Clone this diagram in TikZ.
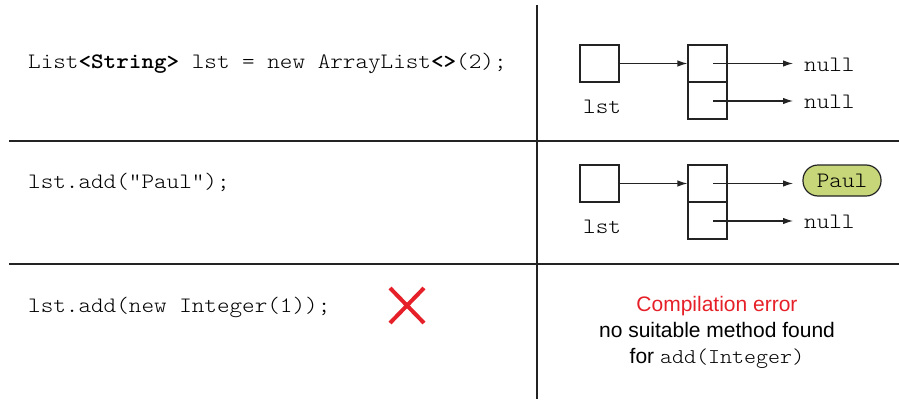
\documentclass[tikz,border=0pt]{standalone}
\usepackage{fontspec}
\setmainfont{Liberation Sans}
\setsansfont{Liberation Sans}
\setmonofont{lmmonolt10-regular.otf}[FakeStretch=1.09, BoldFont=lmmonolt10-bold.otf]
\usetikzlibrary{arrows.meta}
\definecolor{errred}{RGB}{230,32,40}
\definecolor{paulfill}{RGB}{200,214,122}
\definecolor{ink}{RGB}{35,35,35}
\tikzset{
  divider/.style={draw=ink, line width=1.5pt},
  code/.style={font=\fontsize{22}{26}\selectfont\ttfamily, inner sep=0pt, anchor=base west, text=black},
  sanstext/.style={font=\fontsize{21}{25}\selectfont\sffamily, inner sep=0pt, anchor=base, text=black},
  cellbox/.style={draw=ink, line width=1.2pt, minimum width=39pt, minimum height=37pt, inner sep=0pt},
  nulltext/.style={font=\fontsize{22}{26}\selectfont\ttfamily, inner ysep=0pt, inner xsep=11pt, anchor=base west, text=black},
  ptr/.style={draw=ink, line width=1.2pt, -{Latex[length=10pt,width=6.5pt]}},
  paulbox/.style={draw=ink, line width=1.2pt, fill=paulfill, rounded corners=15pt, minimum width=78pt, minimum height=31pt, inner sep=0pt, font=\fontsize{22}{26}\selectfont\ttfamily, text=black},
  crossmark/.style={draw=errred, line width=4pt}
}
\begin{document}
\begin{tikzpicture}[x=1pt,y=-1pt]
\useasboundingbox (0,0) rectangle (899,399);
% grid
\draw[divider] (9,141) -- (899,141);
\draw[divider] (9,264) -- (899,264);
\draw[divider] (537,5) -- (537,399);

% code column
\node[code] (code1) at (28,68) {List\textbf{<String>} lst = new ArrayList\textbf{<>}(2);};
\node[code] (code2) at (28,188) {lst.add("Paul");};
\node[code] (code3) at (28,312) {lst.add(new Integer(1));};

% red cross
\draw[crossmark] (390,288) -- (424,323);
\draw[crossmark] (424,288) -- (390,323);

% row 1 memory
\node[cellbox] (lstA) at (599.5,63.5) {};
\node[code] (lblA) at (583,113) {lst};
\node[cellbox] (arrA1) at (707.5,63.5) {};
\node[cellbox] (arrA2) at (707.5,100.5) {};
\node[nulltext] (nullA1) at (793,71) {null};
\node[nulltext] (nullA2) at (793,108) {null};
\coordinate (sA1) at (713,63.5);
\coordinate (sA2) at (713,101);
\draw[ptr] (lstA.east) -- (arrA1.west);
\draw[ptr] (sA1) -- (sA1 -| nullA1.west);
\draw[ptr] (sA2) -- (sA2 -| nullA2.west);

% row 2 memory
\node[cellbox] (lstB) at (599.5,183.5) {};
\node[code] (lblB) at (583,233) {lst};
\node[cellbox] (arrB1) at (707.5,183.5) {};
\node[cellbox] (arrB2) at (707.5,220.5) {};
\node[paulbox] (paul) at (842,180.5) {Paul};
\node[nulltext] (nullB2) at (793,228) {null};
\coordinate (sB1) at (713,183.5);
\coordinate (sB2) at (713,221);
\coordinate (eB1) at (793,183.5);
\draw[ptr] (lstB.east) -- (arrB1.west);
\draw[ptr] (sB1) -- (eB1);
\draw[ptr] (sB2) -- (sB2 -| nullB2.west);

% row 3 message
\node[sanstext, text=errred] (err1) at (717,311) {Compilation error};
\node[sanstext] (err2) at (717,337) {no suitable method found};
\node[sanstext] (err3) at (717,363) {for \texttt{add(Integer)}};
\end{tikzpicture}
\end{document}
